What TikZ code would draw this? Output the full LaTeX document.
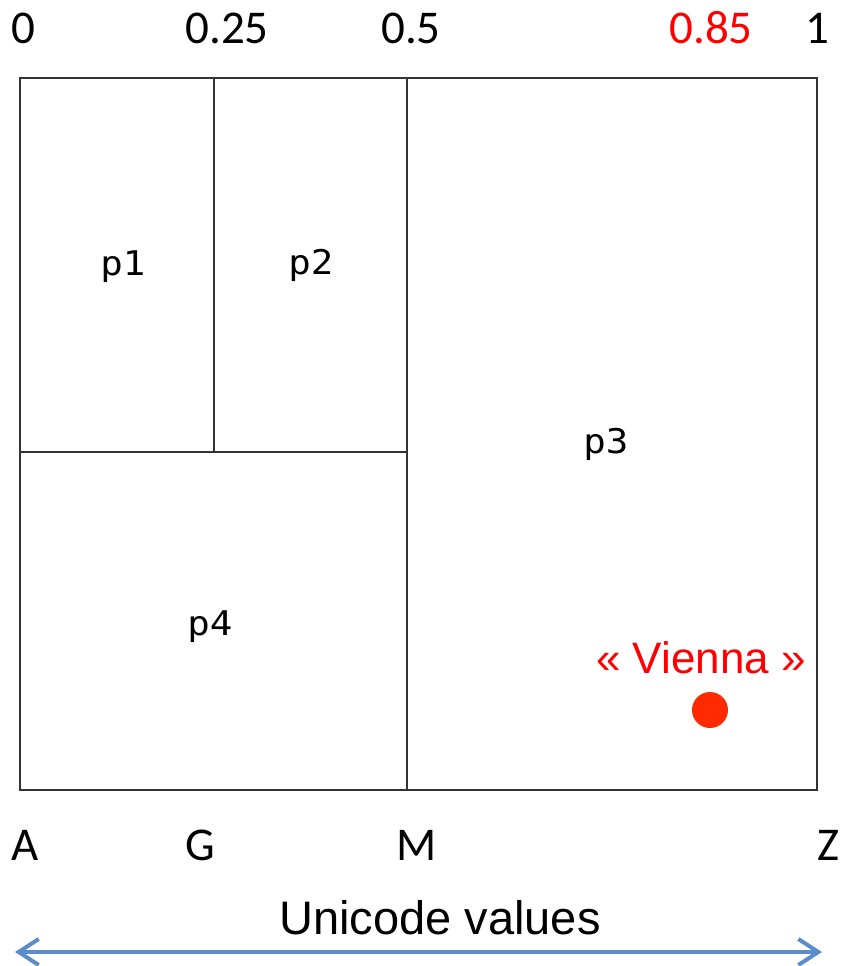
\documentclass[tikz,border=0pt]{standalone}
\usepackage{fontspec}
\setmainfont{Liberation Sans}
\newfontfamily\tickfont{Carlito}
\newfontfamily\partfont[FakeStretch=1.1]{DejaVu Sans Mono}
\usepackage{tikz}
\usetikzlibrary{arrows.meta}
\usepackage{xcolor}
\definecolor{axisblue}{HTML}{5B8DCA}
\definecolor{pointred}{HTML}{FF2A00}

\begin{document}
\begin{tikzpicture}[
    x=0.5pt, y=-0.5pt,
    part/.style={
        draw=black!80,
        line width=1.3pt
    },
    plabel/.style={
        inner sep=0pt,
        font=\partfont\fontsize{17}{20}\selectfont
    },
    tick/.style={
        inner sep=0pt,
        font=\tickfont\fontsize{23.5}{28}\selectfont
    },
    caption/.style={
        inner sep=0pt,
        font=\fontsize{23.5}{28}\selectfont
    },
    axis/.style={
        {Straight Barb[length=10pt,width=13pt]}-{Straight Barb[length=10pt,width=13pt]},
        line width=2pt,
        line cap=round,
        line join=round,
        draw=axisblue
    }
]
\useasboundingbox (0,0) rectangle (846,966);

% Partitions
\draw [part] (20,78) rectangle (817,790);
\draw [part] (214,78) -- (214,452);
\draw [part] (407,78) -- (407,790);
\draw [part] (20,452) -- (407,452);

\node (p1) [plabel] at (123,267) {p1};
\node (p2) [plabel] at (311,265) {p2};
\node (p3) [plabel] at (606,444) {p3};
\node (p4) [plabel] at (210,627) {p4};

% Top scale
\node (t0) [tick] at (23,28) {0};
\node (t25) [tick] at (227,28) {0.25};
\node (t50) [tick] at (411,28) {0.5};
\node (t85) [tick, text=red] at (711,28) {0.85};
\node (t100) [tick] at (817,28) {1};

% Bottom scale
\node (la) [tick] at (25,845) {A};
\node (lg) [tick] at (200,845) {G};
\node (lm) [tick] at (417,845) {M};
\node (lz) [tick] at (829,845) {Z};

% Point
\node (vienna) [caption, text=red, font=\fontsize{22}{26}\selectfont] at (701,658) {« Vienna »};
\fill [pointred] (710,710) circle (9pt);

% Axis
\node (unicode) [caption] at (440,918) {Unicode values};
\coordinate (axl) at (15,952);
\coordinate (axr) at (822,952);
\draw [axis] (axl) -- (axr);

\end{tikzpicture}
\end{document}
